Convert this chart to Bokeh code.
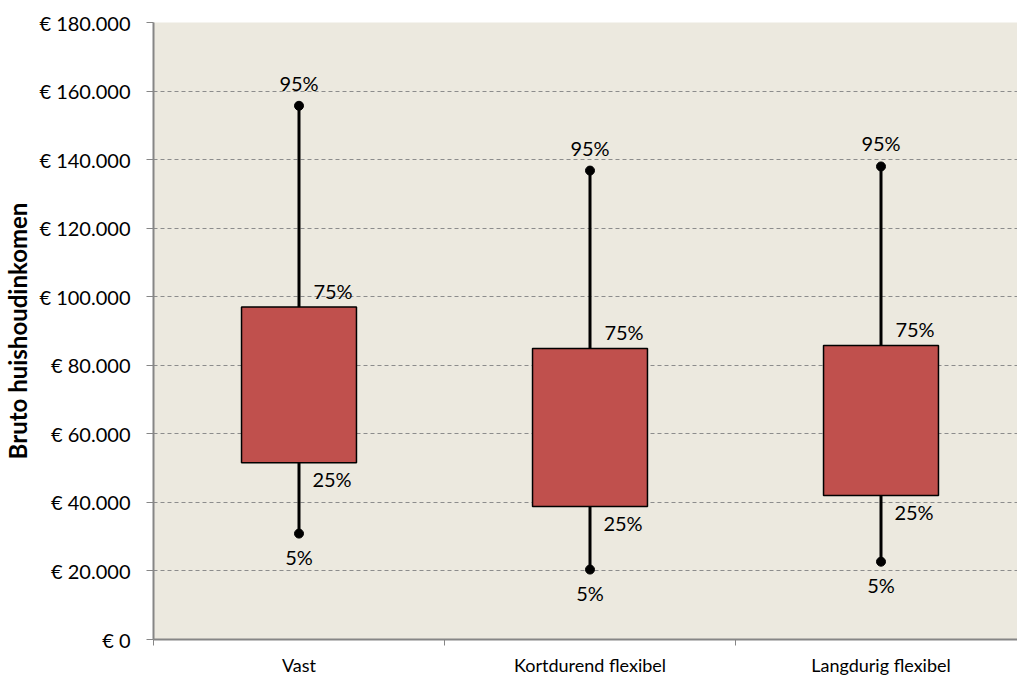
from bokeh.plotting import figure
from bokeh.models import Range1d, FixedTicker, ColumnDataSource, LabelSet
from bokeh.core.properties import value
from bokeh.embed import file_html
from bokeh.resources import INLINE

categories = ["Vast", "Kortdurend flexibel", "Langdurig flexibel"]
p5 = [30900, 20400, 22700]
p25 = [51600, 38800, 42000]
p75 = [97000, 84900, 85800]
p95 = [155700, 136800, 138000]
y_ticks = [0, 20000, 40000, 60000, 80000, 100000, 120000, 140000, 160000, 180000]

FONT = "Lato"
xs = [i + 0.5 for i in range(len(categories))]

p = figure(frame_width=864, frame_height=617, output_backend="svg", toolbar_location=None,
           x_range=Range1d(0, 864 / 291), y_range=Range1d(0, 180000),
           min_border_left=153, min_border_top=22, min_border_bottom=38, min_border_right=0)
p.background_fill_color = "#ECE9DF"
p.border_fill_color = "white"
p.outline_line_color = None

src = ColumnDataSource(dict(x=xs, p5=p5, p25=p25, p75=p75, p95=p95,
                            t95=["95%"] * 3, t75=["75%"] * 3, t25=["25%"] * 3, t5=["5%"] * 3))

# whiskers
p.segment(x0="x", y0="p5", x1="x", y1="p95", source=src, line_color="black", line_width=3)
# boxes
p.vbar(x="x", width=0.395, bottom="p25", top="p75", source=src,
       fill_color="#C0504D", line_color="black", line_width=1.5)
# end dots
p.scatter(x="x", y="p95", source=src, size=9, color="black")
p.scatter(x="x", y="p5", source=src, size=9, color="black")

lbl = dict(text_font=value(FONT), text_font_size="20px", text_color="black", source=src)
p.add_layout(LabelSet(x="x", y="p95", text="t95", y_offset=23, text_align="center",
                      text_baseline="middle", **lbl))
p.add_layout(LabelSet(x="x", y="p5", text="t5", y_offset=-23, text_align="center",
                      text_baseline="middle", **lbl))
p.add_layout(LabelSet(x="x", y="p75", text="t75", x_offset=34, y_offset=16, text_align="center",
                      text_baseline="middle", **lbl))
p.add_layout(LabelSet(x="x", y="p25", text="t25", x_offset=33, y_offset=-16, text_align="center",
                      text_baseline="middle", **lbl))

# y axis
yax = p.yaxis[0]
yax.ticker = FixedTicker(ticks=y_ticks)
yax.major_label_overrides = {t: ("€ " + f"{t:,}".replace(",", ".")) for t in y_ticks}
yax.major_label_text_font = FONT
yax.major_label_text_font_size = "20px"
yax.major_label_text_color = "black"
yax.major_label_standoff = 16
yax.axis_line_color = "#868686"
yax.axis_line_width = 2
yax.major_tick_line_color = "#868686"
yax.major_tick_out = 7
yax.major_tick_in = 0
yax.minor_tick_line_color = None
yax.axis_label = "Bruto huishoudinkomen"
yax.axis_label_text_font = FONT
yax.axis_label_text_font_size = "24px"
yax.axis_label_text_font_style = "bold"
yax.axis_label_text_color = "black"
yax.axis_label_standoff = 4

# x axis
xax = p.xaxis[0]
xax.ticker = FixedTicker(ticks=xs, minor_ticks=[0, 1, 2, 3])
xax.major_label_overrides = {x: c for x, c in zip(xs, categories)}
xax.major_label_text_font = FONT
xax.major_label_text_font_size = "18px"
xax.major_label_text_color = "black"
xax.major_label_standoff = 8
xax.major_tick_line_color = None
xax.major_tick_out = 0
xax.minor_tick_line_color = "#868686"
xax.minor_tick_out = 6
xax.minor_tick_in = 0
xax.axis_line_color = "#868686"
xax.axis_line_width = 2

p.xgrid.grid_line_color = None
p.ygrid.ticker = FixedTicker(ticks=y_ticks)
p.ygrid.grid_line_color = "#8C8C8C"
p.ygrid.grid_line_dash = "4 3"
p.ygrid.grid_line_width = 1

open("out.html", "w").write(file_html(p, INLINE))
